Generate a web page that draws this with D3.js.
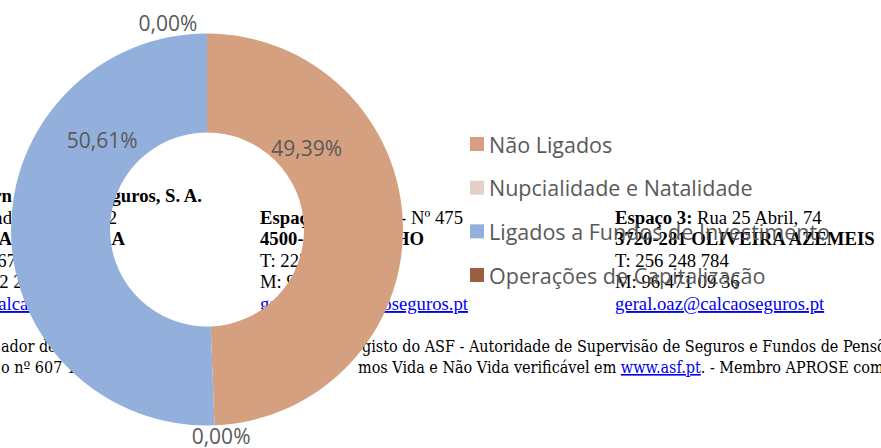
<!DOCTYPE html>
<meta charset="utf-8">
<script src="https://d3js.org/d3.v7.min.js"></script>
<style>
  body { margin: 0; background: #fff; }
</style>
<div id="my_dataviz"></div>
<script>

  // chart data
  var categories = ["Não Ligados", "Nupcialidade e Natalidade", "Ligados a Fundos de Investimento", "Operações de Capitalização"];
  var shares = [49.39, 0.00, 50.61, 0.00];
  var colors = ["#d4a07f", "#e5d0c7", "#93afdc", "#9c5f40"];

  // label placement around the ring: [angle in degrees, distance from centre]
  var labelPlace = [[50.6, 129], [176.1, 207], [310.6, 138], [349.3, 210]];

  // page text sitting behind the chart picture (pieces: x, anchor, text, style)
  var pageLines = [
    {y: 202, pieces: [[12, "end", "Calção Fern", "b"], [202, "end", "andes Seguros, S. A.", "b"]]},
    {y: 224, pieces: [[12, "end", "Rua Fund", ""], [117, "end", "ação, 122", ""]]},
    {y: 245, pieces: [[12, "end", "4520-165 SANTA", "b"], [125, "end", "FEIRA", "b"]]},
    {y: 267, pieces: [[16, "end", "T: 256 367", ""], [18, "start", " 200", ""]]},
    {y: 288, pieces: [[-46, "start", "M: 912 222 333", ""]]},
    {y: 310, pieces: [[45, "end", "geral@calcaos", "u"]]},
    {y: 224, pieces: [[260, "start", "Espaço 2:", "b"], [463, "end", "- Nº 475", ""]]},
    {y: 245, pieces: [[260, "start", "4500-254", "b"], [424, "end", "ESPINHO", "b"]]},
    {y: 267, pieces: [[260, "start", "T: 227 340 000", ""]]},
    {y: 288, pieces: [[260, "start", "M: 912 345 678", ""]]},
    {y: 310, pieces: [[260, "start", "geral.esp@calca", "u"], [468, "end", "oseguros.pt", "u"]]},
    {y: 224, pieces: [[615, "start", "Espaço 3:", "b"], [null, "", " Rua 25 Abril, 74", ""]]},
    {y: 245, pieces: [[615, "start", "3720-281 OLIVEIRA AZEMEIS", "b"]]},
    {y: 267, pieces: [[615, "start", "T: 256 248 784", ""]]},
    {y: 288, pieces: [[615, "start", "M: 96 471 09 36", ""]]},
    {y: 310, pieces: [[615, "start", "geral.oaz@calcaoseguros.pt", "u"]]}
  ];
  var footerLines = [
    {y: 352, pieces: [[1, "start", "ador de", ""], [362, "start", "gisto do ASF - Autoridade de Supervisão de Seguros e Fundos de Pensões", ""]]},
    {y: 373, pieces: [[1, "start", "o nº 607 1", ""], [358, "start", "mos Vida e Não Vida verificável em ", ""], [null, "", "www.asf.pt", "u"], [null, "", ". - Membro APROSE com o nº", ""]]}
  ];

  var width = 881, height = 448;
  var cx = 207, cy = 229.5, outerR = 196, innerR = 97;

  var svg = d3.select("#my_dataviz")
    .append("svg")
      .attr("width", width)
      .attr("height", height);

  // background page text
  function writeLines(g, lines, font, size, stretch) {
    lines.forEach(function(l) {
      var t = null;
      l.pieces.forEach(function(p) {
        if (p[0] !== null || !t) {
          t = g.append("text")
            .attr("x", p[0]).attr("y", l.y)
            .attr("text-anchor", p[1] || "start")
            .style("font-family", font)
            .style("font-size", size + "px")
            .style("font-stretch", stretch || "normal")
            .attr("fill", "#000");
        }
        var s = t.append("tspan").text(p[2]);
        if (p[3] == "b") s.style("font-weight", "bold");
        if (p[3] == "u") s.attr("fill", "#0000ee").style("text-decoration", "underline");
      });
    });
  }
  var page = svg.append("g");
  writeLines(page, pageLines, "Liberation Serif", 18.7);
  writeLines(page, footerLines, "DejaVu Serif", 16, "condensed");

  // the doughnut
  var pie = d3.pie().sort(null).value(function(d) { return d; });
  var arcs = pie(shares);
  var arc = d3.arc().innerRadius(innerR).outerRadius(outerR);

  var chart = svg.append("g")
    .attr("transform", "translate(" + cx + "," + cy + ")");

  chart.selectAll("path")
    .data(arcs)
    .enter().append("path")
      .attr("d", arc)
      .attr("fill", function(d, i) { return colors[i]; });

  var fmt = function(v) { return v.toFixed(2).replace(".", ",") + "%"; };

  chart.selectAll("text.lab")
    .data(arcs)
    .enter().append("text")
      .attr("class", "lab")
      .attr("transform", function(d, i) {
        var p = d3.pointRadial(labelPlace[i][0] * Math.PI / 180, labelPlace[i][1]);
        return "translate(" + p[0] + "," + p[1] + ")";
      })
      .attr("text-anchor", "middle")
      .attr("dominant-baseline", "central")
      .style("font-family", "Open Sans")
      .style("font-size", "21px")
      .attr("fill", "#595959")
      .text(function(d) { return fmt(d.data); });

  // legend
  var legendY = d3.scalePoint()
    .domain(categories)
    .range([144, 275]);

  var legend = svg.append("g").selectAll("g")
    .data(categories)
    .enter().append("g")
      .attr("transform", function(d) { return "translate(470," + legendY(d) + ")"; });

  legend.append("rect")
    .attr("x", 0).attr("y", -7)
    .attr("width", 14).attr("height", 14)
    .attr("fill", function(d, i) { return colors[i]; });

  legend.append("text")
    .attr("x", 19)
    .attr("dominant-baseline", "central")
    .style("font-family", "Open Sans")
    .style("font-size", "21.5px")
    .attr("fill", "#595959")
    .text(function(d) { return d; });

</script>
